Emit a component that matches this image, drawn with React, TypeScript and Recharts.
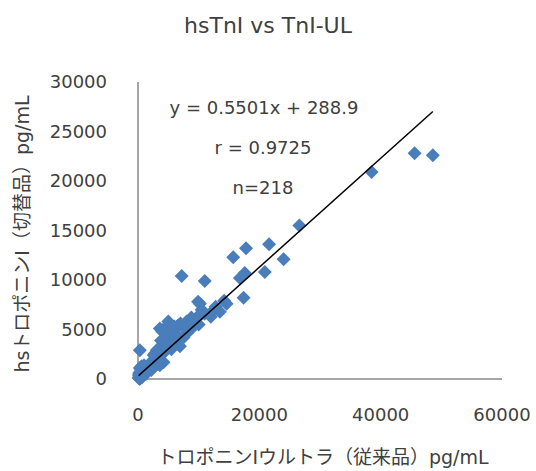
import React from "react";
import { ScatterChart, Scatter, XAxis, YAxis } from "recharts";

// TnI-UL (x) vs hsTnI (y), pg/mL
const xValues = [
  45600, 48600, 38500, 26600, 21600, 17800, 15700, 24000, 20900, 17600,
  16800, 7200, 11000, 17400, 14600, 13500, 10200, 11000, 12000, 9400,
  8300, 5000, 3600, 6600, 6600, 4700, 4200, 5300, 6900, 3100,
  300, 2500, 4200, 3600, 300, 1100, 2000, 300, 8000, 9000,
  10000, 12500, 7500, 6000, 5500, 4500, 3500, 3000, 2500, 2000,
  1500, 1200, 800, 600, 400, 200, 100, 700, 900, 1500,
  2200, 300, 500, 150, 4000, 4500, 5500, 6000, 7000, 8000,
  8800, 9800, 10500, 9900, 10500, 12800, 14200, 3800, 2800, 1800,
  2600, 3300, 5800, 7800, 1000, 600, 200, 1300,
];
const yValues = [
  22800, 22600, 20900, 15500, 13600, 13200, 12300, 12100, 10800, 10700,
  10200, 10400, 9900, 8200, 7600, 6800, 7600, 6600, 6300, 5800,
  5000, 5800, 5100, 5400, 4300, 4100, 3600, 3300, 3300, 2900,
  2900, 1900, 1700, 1400, 1100, 600, 1100, 0, 4600, 5200,
  5500, 7000, 4200, 3600, 3000, 2800, 2200, 1800, 1500, 1300,
  1000, 900, 700, 500, 300, 200, 100, 200, 400, 700,
  900, 600, 900, 400, 4800, 5200, 5000, 5300, 5600, 5800,
  6200, 6300, 7000, 7800, 6600, 7300, 7900, 3900, 2600, 1500,
  2400, 3000, 4500, 5000, 1400, 1300, 600, 500,
];
const xTicks = [0, 20000, 40000, 60000];
const yTicks = [0, 5000, 10000, 15000, 20000, 25000, 30000];

const slope = 0.5501;
const intercept = 288.9;

const points = xValues.map((x, i) => ({ x, y: yValues[i] }));
const xMin = Math.min(...xValues);
const xMax = Math.max(...xValues);
const trend = [xMin, xMax].map((x) => ({ x, y: slope * x + intercept }));

const FONT = "'DejaVu Sans', 'Noto Sans CJK JP', sans-serif";
const TEXT = "#404040";
const BLUE = "#4a7ebb";

const Diamond = (p: any) => {
  const { cx, cy } = p;
  const r = 7;
  return (
    <path d={`M${cx},${cy - r}L${cx + r},${cy}L${cx},${cy + r}L${cx - r},${cy}Z`} fill={BLUE} />
  );
};

export default function App() {
  return (
    <div style={{ position: "absolute", left: 0, top: 0, width: 536, height: 471, background: "#fff", fontFamily: FONT }}>
      <ScatterChart width={536} height={471} margin={{ top: 82, right: 34, bottom: 62, left: 78 }}>
        <XAxis
          type="number"
          dataKey="x"
          domain={[0, 60000]}
          ticks={xTicks}
          height={30}
          tickLine={false}
          tickMargin={23}
          axisLine={{ stroke: "#888", strokeWidth: 1.5 }}
          tick={{ fill: TEXT, fontSize: 18, fontFamily: FONT }}
        />
        <YAxis
          type="number"
          dataKey="y"
          domain={[0, 30000]}
          ticks={yTicks}
          width={60}
          tickLine={false}
          tickMargin={25}
          axisLine={{ stroke: "#888", strokeWidth: 1.5 }}
          tick={{ fill: TEXT, fontSize: 18, fontFamily: FONT }}
        />
        <Scatter data={points} shape={Diamond} isAnimationActive={false} />
        <Scatter
          data={trend}
          line={{ stroke: "#000", strokeWidth: 1.5 }}
          shape={() => <g />}
          isAnimationActive={false}
        />
      </ScatterChart>
      <svg width={536} height={471} style={{ position: "absolute", left: 0, top: 0, pointerEvents: "none" }}>
        <g fill={TEXT} fontFamily={FONT} textAnchor="middle" dominantBaseline="central">
          <text x={268} y={25} fontSize={22}>hsTnI vs TnI-UL</text>
          <text x={264} y={107} fontSize={18}>{`y = 0.5501x + 288.9`}</text>
          <text x={263} y={147} fontSize={18}>r = 0.9725</text>
          <text x={263} y={187} fontSize={18}>n=218</text>
          <text x={323} y={457} fontSize={19}>トロポニンIウルトラ（従来品）pg/mL</text>
          <text x={22} y={234} fontSize={19} transform="rotate(-90 22 234)">hsトロポニンI（切替品）pg/mL</text>
        </g>
      </svg>
    </div>
  );
}
